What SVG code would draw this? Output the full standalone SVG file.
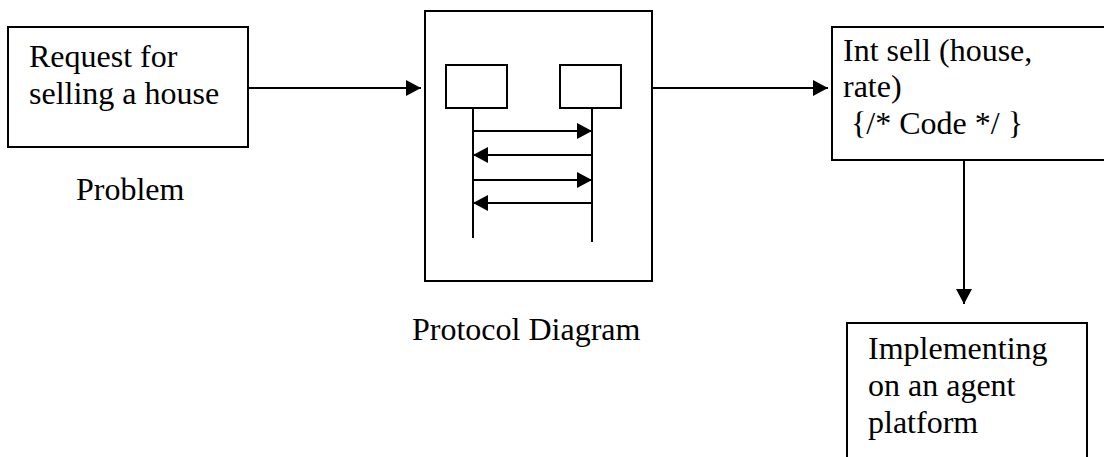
<svg xmlns="http://www.w3.org/2000/svg" width="1104" height="457" viewBox="0 0 1104 457">
<style>
.box{fill:#fff;stroke:#000;stroke-width:2}
.ln{fill:none;stroke:#000;stroke-width:2}
.t{font-family:"Liberation Serif","Times New Roman",serif;font-size:32px;fill:#000}
</style>
<defs>
<marker id="ah" markerUnits="userSpaceOnUse" markerWidth="16" markerHeight="16" refX="15" refY="8" orient="auto">
<path d="M0,0 L15,8 L0,16 z" fill="#000"/>
</marker>
</defs>
<rect width="1104" height="457" fill="#fff"/>
<g id="problem">
<rect class="box" x="8" y="27" width="240" height="120"/>
<text class="t" x="29" y="67">Request for</text>
<text class="t" x="29" y="104">selling a house</text>
<text class="t" x="76" y="200">Problem</text>
</g>
<g id="protocol">
<rect class="box" x="425" y="11" width="227" height="270"/>
<rect class="box" x="446" y="65" width="61" height="43"/>
<rect class="box" x="560" y="65" width="61" height="43"/>
<line class="ln" x1="473" y1="108" x2="473" y2="238"/>
<line class="ln" x1="592" y1="108" x2="592" y2="242"/>
<line class="ln" x1="473" y1="131" x2="592" y2="131" marker-end="url(#ah)"/>
<line class="ln" x1="592" y1="155" x2="473" y2="155" marker-end="url(#ah)"/>
<line class="ln" x1="473" y1="180" x2="592" y2="180" marker-end="url(#ah)"/>
<line class="ln" x1="592" y1="203" x2="473" y2="203" marker-end="url(#ah)"/>
<text class="t" x="412" y="340">Protocol Diagram</text>
</g>
<g id="code">
<rect class="box" x="832" y="27" width="290" height="133"/>
<text class="t" x="843" y="61">Int sell (house,</text>
<text class="t" x="843" y="97">rate)</text>
<text class="t" x="851" y="134">{/* Code */ }</text>
</g>
<g id="platform">
<rect class="box" x="847" y="323" width="240" height="150"/>
<text class="t" x="868" y="359">Implementing</text>
<text class="t" x="868" y="396">on an agent</text>
<text class="t" x="868" y="433">platform</text>
</g>
<g id="connectors">
<line class="ln" x1="248" y1="88" x2="421" y2="88" marker-end="url(#ah)"/>
<line class="ln" x1="652" y1="88" x2="828" y2="88" marker-end="url(#ah)"/>
<line class="ln" x1="964" y1="160" x2="964" y2="304" marker-end="url(#ah)"/>
</g>
</svg>
